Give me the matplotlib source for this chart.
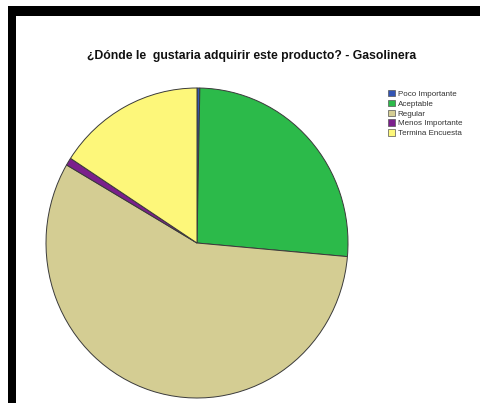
import matplotlib.pyplot as plt
from matplotlib.patches import Rectangle

# Data
labels = ["Poco Importante", "Aceptable", "Regular", "Menos Importante", "Termina Encuesta"]
shares = [0.3, 26.1, 57.0, 0.8, 15.8]
colors = ["#3355b5", "#2cba4a", "#d4cd93", "#7b1f8c", "#fdf77a"]

title = "¿Dónde le  gustaria adquirir este producto? - Gasolinera"

W, H = 481, 403
fig = plt.figure(figsize=(W / 100, H / 100), dpi=100)
fig.patch.set_facecolor("white")

# pie axes, placed in pixels (center ~ (197, 243), rx 151, ry 155)
cx, cy, rx, ry = 197, 243, 151, 155
ax = fig.add_axes([(cx - rx) / W, (H - cy - ry) / H, 2 * rx / W, 2 * ry / H])
wedges, _ = ax.pie(shares, colors=colors, startangle=90, counterclock=False,
                   wedgeprops=dict(edgecolor="#3a3a3a", linewidth=0.7))
ax.set_aspect("auto")
ax.set_xlim(-1, 1)
ax.set_ylim(-1, 1)
ax.axis("off")

fig.text(252 / W, 1 - 56 / H, title, ha="center", va="center",
         fontsize=8.8, fontweight="bold", family="Liberation Sans", color="#111111")

leg = fig.legend(wedges, labels, loc="upper left",
                 bbox_to_anchor=(388 / W, 1 - 90 / H), frameon=False,
                 prop={"family": "Liberation Sans", "size": 5.8},
                 handlelength=0.85, handleheight=0.85, handletextpad=0.35,
                 labelspacing=0.22, borderpad=0, borderaxespad=0)
for h in leg.legend_handles:
    h.set_edgecolor("#555555")
    h.set_linewidth(0.5)
for t in leg.get_texts():
    t.set_color("#333333")

# black frame pieces on top and left
fig.add_artist(Rectangle((8 / W, 1 - 16 / H), 1, 10 / H, transform=fig.transFigure,
                         facecolor="black", edgecolor="none"))
fig.add_artist(Rectangle((8 / W, 0), 8 / W, 1 - 6 / H, transform=fig.transFigure,
                         facecolor="black", edgecolor="none"))

fig.savefig("out.png", dpi=100)
